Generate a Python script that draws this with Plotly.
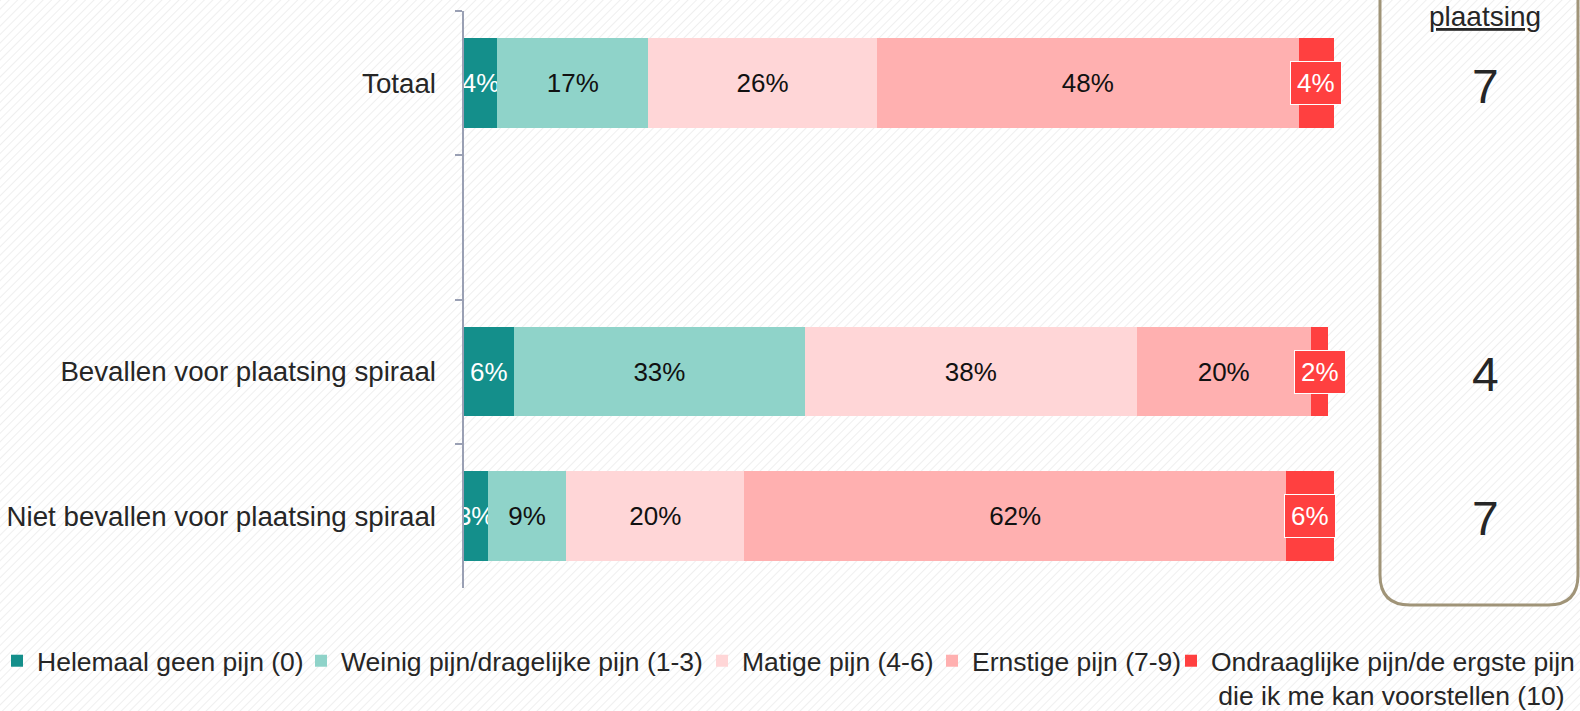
import base64
import plotly.graph_objects as go

W, H = 1580, 711

categories = ["Totaal", " ", "Bevallen voor plaatsing spiraal", "Niet bevallen voor plaatsing spiraal"]
bar_rows = ["Totaal", "Bevallen voor plaatsing spiraal", "Niet bevallen voor plaatsing spiraal"]

series_names = [
    "Helemaal geen pijn (0)",
    "Weinig pijn/dragelijke pijn (1-3)",
    "Matige pijn (4-6)",
    "Ernstige pijn (7-9)",
    "Ondraaglijke pijn/de ergste pijn<br>\u00a0die ik me kan voorstellen (10)",
]
helemaal = [3.9, 5.8, 2.8]
weinig = [17.3, 33.4, 9.0]
matige = [26.3, 38.1, 20.45]
ernstige = [48.4, 20.0, 62.2]
ondraaglijk = [4.1, 2.0, 5.55]

box_values = ["7", "4", "7"]
box_title = "plaatsing"

colors = ["#148F8B", "#8FD3C9", "#FFD6D7", "#FFB0B0", "#FF4040"]
text_colors = ["white", "#111111", "#111111", "#111111", None]

FONT = "Arial, Liberation Sans, Helvetica, sans-serif"

# legend text start positions (px)
legend_text_x = [37, 341, 742, 972, 1211]


def px_x(p):
    return p / W


def px_y(p):
    return 1 - p / H


series = [helemaal, weinig, matige, ernstige, ondraaglijk]
legend_ids = ["legend", "legend2", "legend3", "legend4", "legend5"]

fig = go.Figure()
for name, vals, col, tcol, lid in zip(series_names, series, colors, text_colors, legend_ids):
    kw = {}
    if tcol is not None:
        kw = dict(
            texttemplate="%{x:.0f}%",
            textposition="inside",
            insidetextanchor="middle",
            textangle=0,
            constraintext="none",
            textfont=dict(family=FONT, size=26, color=tcol),
        )
    fig.add_trace(go.Bar(
        y=bar_rows, x=vals, name=name, orientation="h",
        marker=dict(color=col, line=dict(width=0)),
        cliponaxis=True, hoverinfo="skip", legend=lid,
        **kw,
    ))

# red boxed labels for last segment
annotations = []
for i, row in enumerate(bar_rows):
    total = sum(s[i] for s in series)
    xc = total - ondraaglijk[i] / 2
    annotations.append(dict(
        x=xc, y=row, xref="x", yref="y", text=f"{ondraaglijk[i]:.0f}%",
        showarrow=False, xanchor="center", yanchor="middle",
        font=dict(family=FONT, size=26, color="white"),
        bgcolor="#FF4040", bordercolor="white", borderwidth=1, borderpad=6,
    ))

# box values
for i, row in enumerate(bar_rows):
    annotations.append(dict(
        x=px_x(1485), xref="paper", y=row, yref="y", text=box_values[i],
        showarrow=False, yshift=-3, xanchor="center", yanchor="middle",
        font=dict(family=FONT, size=48, color="#262626"),
    ))
annotations.append(dict(
    x=px_x(1485), xref="paper", y=px_y(17), yref="paper", text=f"<u>{box_title}</u>",
    showarrow=False, xanchor="center", yanchor="middle",
    font=dict(family=FONT, size=28, color="#262626"),
))

# rounded box
x0, x1, yb, r, yt = 1380, 1578, 605, 30, -20


def P(x, y):
    return f"{px_x(x):.5f},{px_y(y):.5f}"


path = (f"M{P(x0, yt)} L{P(x0, yb - r)} Q{P(x0, yb)} {P(x0 + r, yb)} "
        f"L{P(x1 - r, yb)} Q{P(x1, yb)} {P(x1, yb - r)} L{P(x1, yt)}")
shapes = [dict(type="path", path=path, xref="paper", yref="paper",
               line=dict(color="#A09478", width=3), layer="above")]

# hatched background
svg = (f"<svg xmlns='http://www.w3.org/2000/svg' width='{W}' height='{H}'>"
       "<defs><pattern id='p' width='6' height='6' patternUnits='userSpaceOnUse' "
       "patternTransform='rotate(45)'><line x1='0' y1='0' x2='0' y2='6' "
       "stroke='#efefef' stroke-width='2'/></pattern></defs>"
       "<rect width='100%' height='100%' fill='white'/>"
       "<rect width='100%' height='100%' fill='url(#p)'/></svg>")
uri = "data:image/svg+xml;base64," + base64.b64encode(svg.encode()).decode()

legend_layout = {}
for lid, tx in zip(legend_ids, legend_text_x):
    legend_layout[lid] = dict(
        orientation="h", x=px_x(tx - 40), xanchor="left", y=px_y(637), yanchor="top",
        font=dict(family=FONT, size=26.5, color="#262626"), valign="top",
        bgcolor="rgba(0,0,0,0)", itemclick=False, itemdoubleclick=False,
    )

fig.update_layout(
    width=W, height=H,
    barmode="stack", bargap=0.38,
    margin=dict(l=0, r=0, t=0, b=0, autoexpand=False),
    paper_bgcolor="white", plot_bgcolor="rgba(0,0,0,0)",
    font=dict(family=FONT, size=26, color="#262626"),
    uniformtext=dict(minsize=26, mode="show"),
    xaxis=dict(range=[0, 100], domain=[px_x(463.5), px_x(1334.3)], visible=False,
               showgrid=False, zeroline=False, fixedrange=True),
    yaxis=dict(type="category", categoryorder="array", categoryarray=categories,
               range=[3.5, -0.5], domain=[px_y(588), px_y(11)],
               showline=True, linecolor="#9AA0B4", linewidth=2,
               ticks="outside", tickson="boundaries", ticklen=7, tickwidth=2,
               tickcolor="#9AA0B4", ticklabelstandoff=20,
               tickfont=dict(family=FONT, size=27.7, color="#262626"),
               showgrid=False, zeroline=False, automargin=False, fixedrange=True),
    showlegend=True,
    annotations=annotations,
    shapes=shapes,
    images=[dict(source=uri, xref="paper", yref="paper", x=0, y=1, sizex=1, sizey=1,
                 xanchor="left", yanchor="top", sizing="stretch", layer="below")],
    **legend_layout,
)

fig.write_html("out.html", config={"displayModeBar": False},
               post_script="document.body.style.margin='0';document.body.style.overflow='hidden';")
